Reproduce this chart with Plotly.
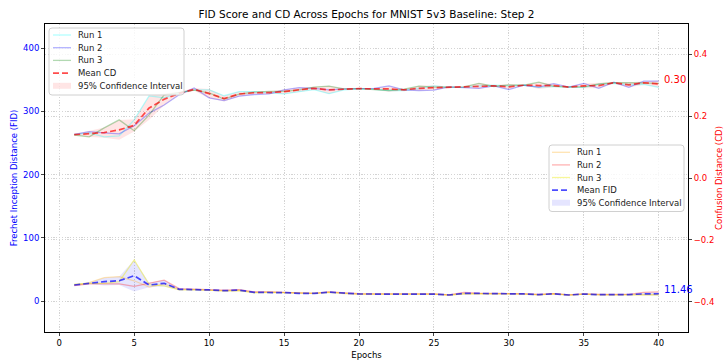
import numpy as np
import plotly.graph_objects as go

epochs = list(range(1, 41))

fid_run1 = [25, 29, 37, 38.5, 32, 22, 27, 18.5, 18, 17, 16, 17, 13.5, 14, 13, 12, 12, 14, 11.8, 11,
            11, 11, 10.8, 10.3, 11, 9.5, 11.5, 11.8, 12, 11.2, 11.2, 10, 11.5, 9.5, 11, 10, 9.8, 10, 10.5, 10.3]
fid_run2 = [24.5, 27, 27, 27, 23, 28, 33, 19.5, 19, 18.5, 17, 18, 14.5, 14.5, 13.8, 12.5, 12.2, 14.5, 12.5, 11.5,
            11.3, 11.2, 11.2, 10.8, 11.2, 9.8, 13.5, 12.3, 12.2, 11.5, 11.4, 10.3, 11.8, 9.8, 11.2, 10.3, 10.2, 10.6, 13.5, 14.3]
fid_run3 = [26.5, 28, 28, 30.5, 65, 26, 24, 17.5, 18, 17, 16, 16.5, 13, 13.5, 12.8, 12, 12, 13.5, 11.7, 10.8,
            10.8, 10.9, 10.8, 10.4, 10.9, 9.3, 11.2, 11.7, 11.8, 11, 11, 9.8, 11.2, 9.3, 10.8, 9.8, 9.7, 9.8, 9.8, 9.78]

cd_run1 = [0.140, 0.146, 0.133, 0.136, 0.188, 0.266, 0.259, 0.275, 0.285, 0.285, 0.266, 0.279, 0.279, 0.276, 0.272,
           0.279, 0.286, 0.273, 0.285, 0.288, 0.287, 0.283, 0.283, 0.290, 0.298, 0.293, 0.294, 0.298, 0.300, 0.298,
           0.300, 0.293, 0.296, 0.293, 0.293, 0.303, 0.306, 0.302, 0.303, 0.293]
cd_run2 = [0.141, 0.150, 0.146, 0.143, 0.169, 0.210, 0.236, 0.269, 0.291, 0.259, 0.250, 0.265, 0.270, 0.272, 0.285,
           0.292, 0.290, 0.285, 0.288, 0.290, 0.290, 0.298, 0.285, 0.283, 0.284, 0.295, 0.293, 0.290, 0.298, 0.286,
           0.300, 0.294, 0.305, 0.294, 0.306, 0.290, 0.310, 0.293, 0.313, 0.313]
cd_run3 = [0.139, 0.133, 0.162, 0.188, 0.153, 0.204, 0.269, 0.277, 0.284, 0.275, 0.255, 0.271, 0.278, 0.280, 0.280,
           0.285, 0.294, 0.297, 0.288, 0.289, 0.287, 0.283, 0.287, 0.297, 0.294, 0.294, 0.295, 0.306, 0.296, 0.301,
           0.300, 0.310, 0.296, 0.295, 0.295, 0.304, 0.308, 0.308, 0.308, 0.306]

title = "FID Score and CD Across Epochs for MNIST 5v3 Baseline: Step 2"
cd_labels = ["Run 1", "Run 2", "Run 3", "Mean CD", "95% Confidence Interval"]
fid_labels = ["Run 1", "Run 2", "Run 3", "Mean FID", "95% Confidence Interval"]

fid = np.array([fid_run1, fid_run2, fid_run3])
cd = np.array([cd_run1, cd_run2, cd_run3])
fid_mean = fid.mean(axis=0)
cd_mean = cd.mean(axis=0)
fid_ci = 1.96 * fid.std(axis=0, ddof=1) / np.sqrt(3)
cd_ci = 1.96 * cd.std(axis=0, ddof=1) / np.sqrt(3)

FONT = "DejaVu Sans"
W, H = 724, 360
L, R, T, B = 45, 688, 24, 332

fid_cols = ["rgba(255,165,0,0.3)", "rgba(255,0,0,0.3)", "rgba(235,235,0,0.4)", "rgba(0,0,255,0.7)", "rgba(0,0,255,0.1)"]
cd_cols = ["rgba(0,255,255,0.3)", "rgba(0,0,255,0.3)", "rgba(0,128,0,0.3)", "rgba(255,0,0,0.7)", "rgba(255,0,0,0.1)"]
DASH = "6px,3px"

fig = go.Figure()
ep = np.array(epochs)
poly_x = list(ep) + list(ep[::-1])

# FID (left axis)
fig.add_trace(go.Scatter(x=poly_x, y=list(fid_mean + fid_ci) + list((fid_mean - fid_ci)[::-1]),
                         fill="toself", fillcolor=fid_cols[4], line=dict(width=0), mode="lines",
                         name=fid_labels[4], hoverinfo="skip"))
for vals, col, nm in zip([fid_run1, fid_run2, fid_run3], fid_cols[:3], fid_labels[:3]):
    fig.add_trace(go.Scatter(x=epochs, y=vals, mode="lines", line=dict(color=col, width=1.3), name=nm))
fig.add_trace(go.Scatter(x=epochs, y=fid_mean, mode="lines",
                         line=dict(color=fid_cols[3], width=1.7, dash=DASH), name=fid_labels[3]))

# CD (right axis)
fig.add_trace(go.Scatter(x=poly_x, y=list(cd_mean + cd_ci) + list((cd_mean - cd_ci)[::-1]),
                         fill="toself", fillcolor=cd_cols[4], line=dict(width=0), mode="lines",
                         name=cd_labels[4], yaxis="y2", hoverinfo="skip"))
for vals, col, nm in zip([cd_run1, cd_run2, cd_run3], cd_cols[:3], cd_labels[:3]):
    fig.add_trace(go.Scatter(x=epochs, y=vals, mode="lines", line=dict(color=col, width=1.3),
                             name=nm, yaxis="y2"))
fig.add_trace(go.Scatter(x=epochs, y=cd_mean, mode="lines",
                         line=dict(color=cd_cols[3], width=1.7, dash=DASH), name=cd_labels[3], yaxis="y2"))

fig.add_annotation(x=epochs[-1], y=cd_mean[-1], xref="x", yref="y2", text=f"{cd_mean[-1]:.2f}",
                   showarrow=False, xanchor="left", yanchor="bottom", xshift=3, yshift=-3,
                   font=dict(family=FONT, size=10, color="red"))
fig.add_annotation(x=epochs[-1], y=fid_mean[-1], xref="x", yref="y", text=f"{fid_mean[-1]:.2f}",
                   showarrow=False, xanchor="left", yanchor="bottom", xshift=3, yshift=-3,
                   font=dict(family=FONT, size=10, color="blue"))


# legends drawn as boxes (pixel layout -> paper coords)
def px(x):
    return (x - L) / (R - L)


def py(y):
    return (B - y) / (B - T)


def rounded_box(x0, y0, x1, y1, r=3):
    X0, X1 = px(x0), px(x1)
    Y0, Y1 = py(y0), py(y1)
    rx, ry = r / (R - L), r / (B - T)
    return (f"M{X0 + rx},{Y0} L{X1 - rx},{Y0} Q{X1},{Y0} {X1},{Y0 - ry} "
            f"L{X1},{Y1 + ry} Q{X1},{Y1} {X1 - rx},{Y1} L{X0 + rx},{Y1} Q{X0},{Y1} {X0},{Y1 + ry} "
            f"L{X0},{Y0 - ry} Q{X0},{Y0} {X0 + rx},{Y0} Z")


def draw_legend(box, first_y, step, line_x0, line_x1, text_x, labels, cols):
    x0, y0, x1, y1 = box
    fig.add_shape(type="path", path=rounded_box(x0, y0, x1, y1), xref="paper", yref="paper",
                  fillcolor="rgba(255,255,255,0.8)", line=dict(color="#d0d0d0", width=1), layer="above")
    for i, (lab, col) in enumerate(zip(labels, cols)):
        yc = first_y + i * step
        if i < 3:
            fig.add_shape(type="line", x0=px(line_x0), x1=px(line_x1), y0=py(yc), y1=py(yc),
                          xref="paper", yref="paper", line=dict(color=col, width=1.3), layer="above")
        elif i == 3:
            fig.add_shape(type="line", x0=px(line_x0), x1=px(line_x1), y0=py(yc), y1=py(yc),
                          xref="paper", yref="paper", line=dict(color=col, width=1.7, dash=DASH), layer="above")
        else:
            fig.add_shape(type="rect", x0=px(line_x0), x1=px(line_x1), y0=py(yc - 3), y1=py(yc + 3),
                          xref="paper", yref="paper", fillcolor=col, line=dict(width=0), layer="above")
        fig.add_annotation(x=px(text_x), y=py(yc), xref="paper", yref="paper", text=lab, showarrow=False,
                           xanchor="left", yanchor="middle", font=dict(family=FONT, size=8.5, color="#222"),
                           borderpad=0)


draw_legend((49, 28, 184, 95), 35, 12.7, 53, 71, 76.5, cd_labels, cd_cols)
draw_legend((549, 145, 684, 211.5), 152.3, 12.6, 552, 570, 576, fid_labels, fid_cols)

grid = dict(showgrid=True, gridcolor="#d4d4d4", griddash="1.2px,1.6px", gridwidth=0.8)
axfont = dict(family=FONT, size=8.5)

fig.update_layout(
    width=W, height=H,
    margin=dict(l=L, r=W - R, t=T, b=H - B),
    paper_bgcolor="white", plot_bgcolor="white",
    font=dict(family=FONT, size=8.5, color="black"),
    title=dict(text=title, x=0.5, xref="paper", y=1 - 14 / H, yref="container",
               xanchor="center", yanchor="middle", font=dict(family=FONT, size=10.5, color="black")),
    showlegend=False,
    xaxis=dict(range=[-0.95, 41.95], dtick=5, tick0=0, ticks="outside", ticklen=3, automargin=False,
               showline=True, linecolor="black", linewidth=1, mirror=True, zeroline=False,
               title=dict(text="Epochs", font=axfont, standoff=4), tickfont=axfont, **grid),
    yaxis=dict(range=[-49, 438], dtick=100, tick0=0, ticks="outside", ticklen=3, automargin=False,
               showline=True, linecolor="black", linewidth=1, zeroline=False,
               title=dict(text="Frechet Inception Distance (FID)", font=dict(family=FONT, size=8.5, color="blue"), standoff=4),
               tickfont=dict(family=FONT, size=8.5, color="blue"), **grid),
    yaxis2=dict(range=[-0.498, 0.498], dtick=0.2, tick0=0, ticks="outside", ticklen=3, automargin=False,
                overlaying="y", side="right", tickformat=".1f",
                showline=True, linecolor="black", linewidth=1, zeroline=False,
                title=dict(text="Confusion Distance (CD)", font=dict(family=FONT, size=8.5, color="red"), standoff=4),
                tickfont=dict(family=FONT, size=8.5, color="red"), **grid),
)

fig.write_html("out.html")
